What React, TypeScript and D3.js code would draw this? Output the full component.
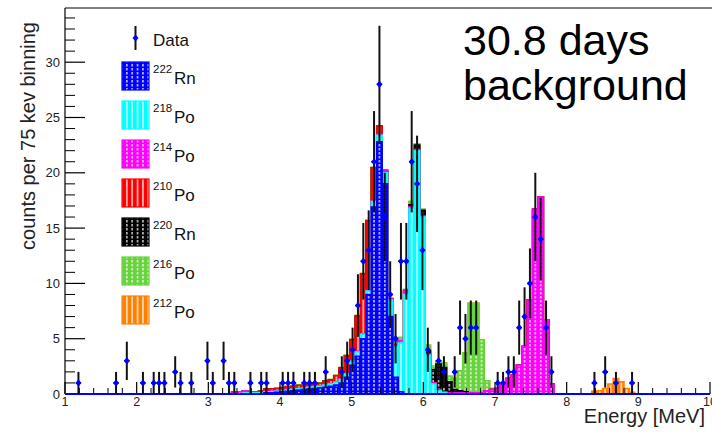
import React from 'react'
import * as d3 from 'd3'

// 75 keV bins from 1 to 10 MeV
const binWidth = 0.075
const nBins = 120

// data: bin index and counts (empty bins not drawn)
const dataBin = [2, 9, 11, 14, 16, 17, 18, 20, 21, 23, 26, 27, 29, 30, 31, 34, 36, 37, 40, 41, 42, 44, 45, 46, 48,
  51, 52, 53, 54, 55, 56, 57, 58, 59, 60, 61, 62, 63, 64, 65, 66, 67, 69, 70, 72, 73, 74, 75, 76,
  80, 81, 82, 83, 84, 85, 86, 87, 88, 89, 90, 98, 100, 102, 105]
const dataCount = [1, 1, 3, 1, 1, 1, 1, 2, 1, 1, 3, 1, 3, 1, 1, 1, 1, 1, 1, 1, 1, 1, 1, 1, 2,
  2, 3, 4, 8, 12, 13, 21, 28, 16, 9, 5, 12, 12, 21, 19, 13, 4, 3, 2, 2, 6, 5, 6, 6,
  1, 1, 2, 2, 6, 7, 10, 16, 14, 6, 2, 1, 2, 1, 1]

// stacked components: first bin index + contents
const rn222Start = 37
const rn222 = [0.1, 0.1, 0.15, 0.2, 0.25, 0.3, 0.35, 0.4, 0.45, 0.5, 0.55, 0.6, 0.7, 0.8, 1.0, 1.5, 2.6, 3.4,
  5.0, 9.0, 16.9, 22.8, 19.0, 7.0, 1.5, 0.2]

const po218Start = 33
const po218 = [0.1, 0.1, 0.1, 0.1, 0.1, 0.1, 0.1, 0.1, 0.1, 0.12, 0.12, 0.12, 0.15, 0.15, 0.15, 0.2, 0.2, 0.25,
  0.3, 0.3, 0.35, 0.4, 0.4, 0.3, 0.5, 0.6, 1.0, 1.5, 2.8, 4.4, 9.0, 16.8, 22.0, 16.0, 3.5, 0.9, 0.3, 0.1]

const po214Start = 31
const po214 = [0.15, 0.2, 0.2, 0.1, 0.05, 0.05, 0.05, 0.05, 0.05, 0.05, 0.05, 0.05, 0.05, 0.05, 0.05, 0.05, 0.05,
  0.05, 0.05, 0.05, 0.05, 0.05, 0.05, 0.05, 0.05, 0.05, 0.05, 0.05, 0.2, 0.1, 0.1, 0.2, 0.3, 0.1, 0.1, 0.1, 0.1,
  0.1, 0.1, 0.1, 0.1, 0.1, 0.1, 0.1, 0.1, 0.1, 0.1, 0.3, 0.4, 0.5, 0.8, 1.4, 1.7, 2.6, 4.3, 8.5, 16.7, 17.8, 6.7, 0.9]

const po210Start = 36
const po210 = [0.1, 0.2, 0.2, 0.2, 0.2, 0.25, 0.2, 0.25, 0.2, 0.15, 0.15, 0.2, 0.3, 0.3, 0.55, 1.0, 1.6, 1.9,
  3.2, 5.4, 6.3, 3.0, 0.75]

const rn220Start = 63
const rn220 = [0.05, 0.2, 0.4, 0.5, 0.3, 1.2, 2.3, 2.2, 1.0, 0.3, 0.2, 0.1]

const po216Start = 40
const po216 = [0.05, 0.05, 0.05, 0.05, 0.05, 0.05, 0.05, 0.05, 0.05, 0.05, 0.05, 0.05, 0.05, 0.05, 0.05, 0.05,
  0.05, 0.05, 0.05, 0.05, 0.05, 0.5, 0.3, 0.1, 0.3, 0.1, 0.1, 0.5, 0.3, 0.3, 0.4, 0.5, 1.0, 1.8, 3.5, 8.1, 8.1,
  4.8, 0.9, 0.1]

const po212Start = 98
const po212 = [0.25, 0.3, 0.5, 0.9, 1.4, 1.1, 0.5, 0.15]

const isotopes = [
  { mass: '222', el: 'Rn', color: '#0000ff', start: rn222Start, values: rn222, dashed: true },
  { mass: '218', el: 'Po', color: '#00ffff', start: po218Start, values: po218, dashed: false },
  { mass: '214', el: 'Po', color: '#ff00ff', start: po214Start, values: po214, dashed: true },
  { mass: '210', el: 'Po', color: '#ff0000', start: po210Start, values: po210, dashed: false },
  { mass: '220', el: 'Rn', color: '#000000', start: rn220Start, values: rn220, dashed: true },
  { mass: '216', el: 'Po', color: '#66d43a', start: po216Start, values: po216, dashed: true },
  { mass: '212', el: 'Po', color: '#ff8000', start: po212Start, values: po212, dashed: false },
]

const W = 712
const H = 433
const font = '"Liberation Sans", Arial, Helvetica, sans-serif'

export default function App() {
  const x = d3.scaleLinear().domain([1, 10]).range([65, 710])
  const y = d3.scaleLinear().domain([0, 34.9]).range([394, 8])
  const bw = x(1 + binWidth) - x(1)
  const edge = (k: number) => x(1 + k * binWidth)
  const center = (k: number) => x(1 + (k + 0.5) * binWidth)

  // full arrays, then cumulative sums for the stack
  const full = isotopes.map(iso => {
    const a = new Array(nBins).fill(0)
    iso.values.forEach((v, i) => { a[iso.start + i] = v })
    return a
  })
  const cum = full.map((_, i) => d3.range(nBins).map(k => d3.sum(full.slice(0, i + 1), a => a[k])))

  const stepPath = (vals: number[]) => {
    let d = `M${edge(0)},${y(0)}`
    vals.forEach((v, k) => { d += `V${y(v)}H${edge(k + 1)}` })
    return d + `V${y(0)}`
  }

  const yMajor = d3.range(0, 31, 5)
  const yMinor = d3.range(0, 35, 1).filter(v => v % 5 !== 0)
  const xMajor = d3.range(1, 11, 1)
  const xMinor = d3.range(0, 46).map(i => 1 + i * 0.2).filter(v => Math.abs(v - Math.round(v)) > 0.01)

  const legendTop = 62
  const legendStep = 39

  return (
    <svg width={W} height={H} style={{ position: 'absolute', left: 0, top: 0, background: '#fff' }}
      fontFamily={font}>
      <defs>
        {isotopes.map((iso, i) => (
          <pattern key={i} id={`pat${i}`} patternUnits="userSpaceOnUse" x={65} y={0} width={bw} height={4}>
            <rect width={bw} height={4} fill={iso.color} />
            <line x1={bw / 2} x2={bw / 2} y1={0} y2={iso.dashed ? 2.6 : 4} stroke="#fff" strokeWidth={1.2} />
          </pattern>
        ))}
      </defs>

      {/* stack, drawn from total down */}
      {d3.range(isotopes.length - 1, -1, -1).map(i => (
        <path key={i} d={stepPath(cum[i]) + 'Z'} fill={`url(#pat${i})`} stroke={isotopes[i].color}
          strokeWidth={1.6} />
      ))}

      {/* frame and axes */}
      <line x1={65} x2={65} y1={8} y2={394} stroke="#000" strokeWidth={1.2} />
      <line x1={65} x2={712} y1={8} y2={8} stroke="#000" strokeWidth={1} />
      {yMajor.map(v => (
        <g key={v}>
          <line x1={65} x2={85} y1={y(v)} y2={y(v)} stroke="#000" strokeWidth={1.2} />
          <text x={60} y={y(v)} dy="0.36em" textAnchor="end" fontSize={13} fill="#222">{v}</text>
        </g>
      ))}
      {yMinor.map(v => (
        <line key={v} x1={65} x2={75} y1={y(v)} y2={y(v)} stroke="#000" strokeWidth={1} />
      ))}
      {xMajor.map(v => (
        <g key={v}>
          <line x1={x(v)} x2={x(v)} y1={394} y2={382} stroke="#000" strokeWidth={1.2} />
          <text x={x(v)} y={406} textAnchor="middle" fontSize={12.5} fill="#222">{v}</text>
        </g>
      ))}
      {xMinor.map(v => (
        <line key={v} x1={x(v)} x2={x(v)} y1={394} y2={388} stroke="#000" strokeWidth={1} />
      ))}
      <line x1={65} x2={710} y1={y(0)} y2={y(0)} stroke="#0000ff" strokeWidth={1.8} />

      {/* data points with errors */}
      {dataBin.map((k, i) => {
        const n = dataCount[i]
        const e = Math.sqrt(n)
        const cx = center(k)
        return (
          <g key={k}>
            <line x1={cx} x2={cx} y1={y(Math.max(0, n - e))} y2={y(n + e)} stroke="#111" strokeWidth={2} />
            <line x1={cx - bw / 2} x2={cx + bw / 2} y1={y(n)} y2={y(n)} stroke="#111" strokeWidth={1.6} />
          </g>
        )
      })}
      {dataBin.map((k, i) => {
        const cx = center(k)
        const cy = y(dataCount[i])
        return <path key={k} d={`M${cx},${cy - 3.6}L${cx + 3},${cy}L${cx},${cy + 3.6}L${cx - 3},${cy}Z`} fill="#0000ff" />
      })}

      {/* axis titles */}
      <text transform="translate(35,22) rotate(-90)" textAnchor="end" fontSize={20} fill="#222">
        counts per 75 kev binning
      </text>
      <text x={705} y={423} textAnchor="end" fontSize={20} fill="#222">Energy [MeV]</text>

      {/* legend */}
      <line x1={135.5} x2={135.5} y1={26} y2={50} stroke="#111" strokeWidth={2} />
      <path d="M135.5,34.4L138.5,38L135.5,41.6L132.5,38Z" fill="#0000ff" />
      <text x={153} y={46} fontSize={17} fill="#111">Data</text>
      {isotopes.map((iso, i) => {
        const top = legendTop + i * legendStep
        return (
          <g key={i}>
            <rect x={122} y={top} width={27} height={28} fill={`url(#pat${i})`} stroke={iso.color} strokeWidth={1.2} />
            <text x={153} y={top + 11} fontSize={11.5} fill="#111">{iso.mass}</text>
            <text x={174} y={top + 22} fontSize={17} fill="#111">{iso.el}</text>
          </g>
        )
      })}

      {/* annotation */}
      <text x={463} y={55} fontSize={43} fill="#000">30.8 days</text>
      <text x={463} y={100} fontSize={43} fill="#000">background</text>
    </svg>
  )
}
